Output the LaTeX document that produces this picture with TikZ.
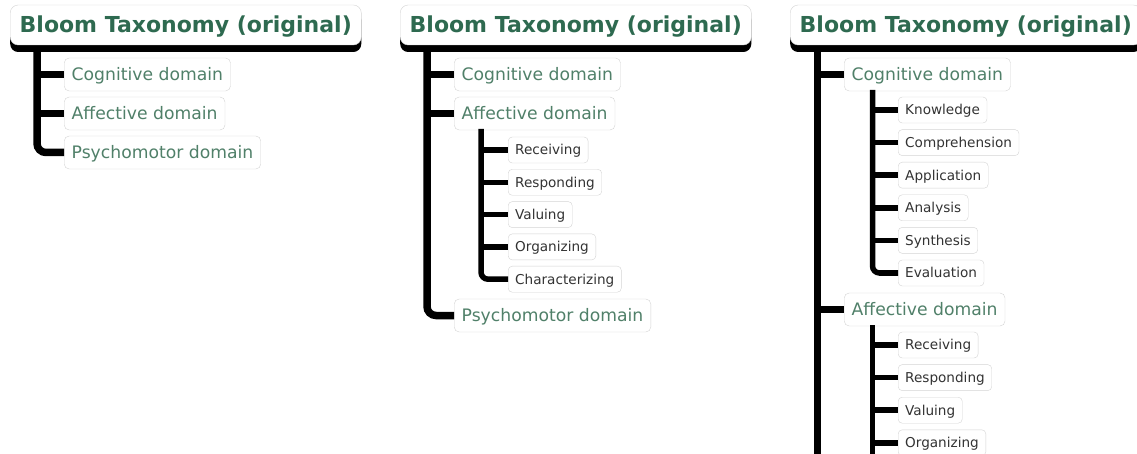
\documentclass[tikz,border=0pt]{standalone}
\usepackage{fontspec}
\setmainfont{DejaVu Sans}
\usetikzlibrary{calc}
\definecolor{titlegreen}{RGB}{46,106,80}
\definecolor{childgreen}{RGB}{80,128,105}
\definecolor{subgrey}{RGB}{51,51,51}
\definecolor{boxgrey}{RGB}{212,212,212}
\newcommand{\titlefont}{\bfseries\fontsize{22}{26}\selectfont}
\newcommand{\childfont}{\fontsize{17.2}{20}\selectfont}
\newcommand{\subfont}{\fontsize{13.6}{16}\selectfont}
\tikzset{
  titlebox/.style={draw=boxgrey, fill=white, rounded corners=8pt, anchor=west,
    minimum height=40pt, inner xsep=9.5pt, inner ysep=0pt,
    text height=16pt, text depth=0pt, font=\titlefont, text=titlegreen,
    preaction={fill=black, transform canvas={yshift=-7pt}}},
  childbox/.style={draw=boxgrey, fill=white, rounded corners=5pt, anchor=west,
    minimum height=33pt, inner xsep=7.5pt, inner ysep=0pt,
    text height=12.5pt, text depth=0pt, font=\childfont, text=childgreen},
  subbox/.style={draw=boxgrey, fill=white, rounded corners=4pt, anchor=west,
    minimum height=26pt, inner xsep=7pt, inner ysep=0pt,
    text height=9.9pt, text depth=0pt, font=\subfont, text=subgrey},
  trunk/.style={draw=black, line width=7.5pt, rounded corners=9pt},
  subtrunk/.style={draw=black, line width=5.5pt, rounded corners=7pt},
}
\begin{document}
\begin{tikzpicture}[x=1pt, y=-1pt]
\useasboundingbox (0,0) rectangle (1137,454);
\fill[white] (0,0) rectangle (1137,454);
\clip (0,0) rectangle (1137,454);

% ---- first tree: three domains ----
\node[titlebox] (a0) at (10,25) {Bloom Taxonomy (original)};
\node[childbox] (acog) at (64,74.5) {Cognitive domain};
\node[childbox] (aaff) at (64,113.5) {Affective domain};
\node[childbox] (apsy) at (64,152.5) {Psychomotor domain};
\coordinate (atop) at (37,48);
\draw[trunk] (atop) |- (apsy.west);
\draw[trunk] (atop |- acog.west) -- (acog.west);
\draw[trunk] (atop |- aaff.west) -- (aaff.west);

% ---- second tree: affective domain expanded ----
\node[titlebox] (b0) at (400,25) {Bloom Taxonomy (original)};
\node[childbox] (bcog) at (454,74.5) {Cognitive domain};
\node[childbox] (baff) at (454,113.5) {Affective domain};
\node[subbox] (brec) at (508,150) {Receiving};
\node[subbox] (bres) at (508,182.3) {Responding};
\node[subbox] (bval) at (508,214.6) {Valuing};
\node[subbox] (borg) at (508,246.9) {Organizing};
\node[subbox] (bcha) at (508,279.2) {Characterizing};
\node[childbox] (bpsy) at (454,315.5) {Psychomotor domain};
\coordinate (btop) at (427,48);
\draw[trunk] (btop) |- (bpsy.west);
\draw[trunk] (btop |- bcog.west) -- (bcog.west);
\draw[trunk] (btop |- baff.west) -- (baff.west);
\coordinate (bsub) at (481,129);
\draw[subtrunk] (bsub) |- (bcha.west);
\foreach \n in {brec,bres,bval,borg}
  \draw[subtrunk] (bsub |- \n.west) -- (\n.west);

% ---- third tree: cognitive and affective domains expanded ----
\node[titlebox] (c0) at (790,25) {Bloom Taxonomy (original)};
\node[childbox] (ccog) at (844,74.5) {Cognitive domain};
\node[subbox] (ckno) at (898,110) {Knowledge};
\node[subbox] (ccom) at (898,142.6) {Comprehension};
\node[subbox] (capp) at (898,175.2) {Application};
\node[subbox] (cana) at (898,207.8) {Analysis};
\node[subbox] (csyn) at (898,240.4) {Synthesis};
\node[subbox] (ceva) at (898,273) {Evaluation};
\node[childbox] (caff) at (844,309.5) {Affective domain};
\node[subbox] (crec) at (898,345) {Receiving};
\node[subbox] (cres) at (898,377.6) {Responding};
\node[subbox] (cval) at (898,410.2) {Valuing};
\node[subbox] (corg) at (898,442.8) {Organizing};
\coordinate (ctop) at (817.5,48);
\coordinate (cend) at (817.5,480);
\draw[trunk] (ctop) -- (cend);
\draw[trunk] (ctop |- ccog.west) -- (ccog.west);
\draw[trunk] (ctop |- caff.west) -- (caff.west);
\coordinate (csubA) at (872.5,90);
\draw[subtrunk] (csubA) |- (ceva.west);
\foreach \n in {ckno,ccom,capp,cana,csyn}
  \draw[subtrunk] (csubA |- \n.west) -- (\n.west);
\coordinate (csubB) at (872.5,325);
\coordinate (csubBend) at (872.5,480);
\draw[subtrunk] (csubB) -- (csubBend);
\foreach \n in {crec,cres,cval,corg}
  \draw[subtrunk] (csubB |- \n.west) -- (\n.west);
\end{tikzpicture}
\end{document}
